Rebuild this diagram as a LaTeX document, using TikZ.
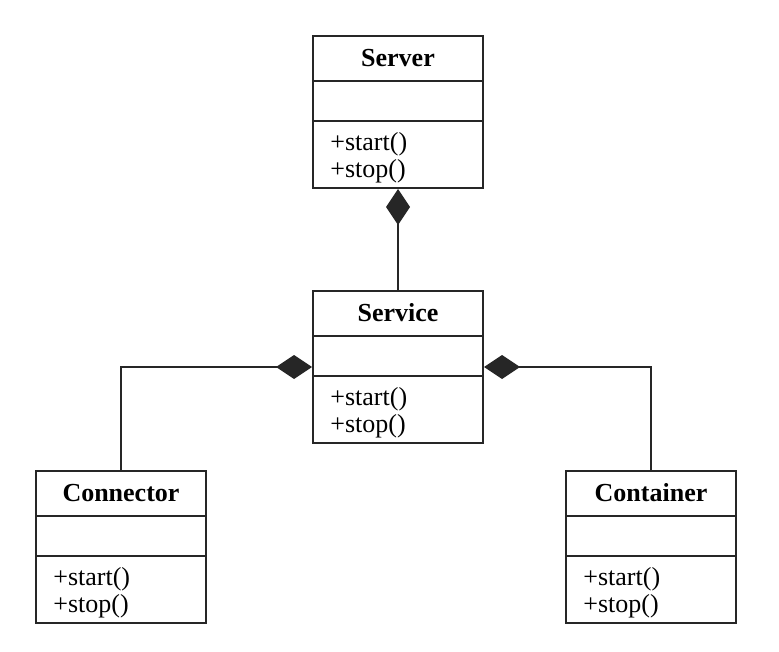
\documentclass[tikz,border=0pt]{standalone}
\usepackage{fontspec}
\setmainfont{Liberation Serif}
\usepackage{tikz}
\usetikzlibrary{positioning}
\usetikzlibrary{arrows.meta}
\tikzset{classbox/.style={draw=black!85, line width=1pt, minimum width=85pt, minimum height=76pt, inner sep=0pt}}
\tikzset{classname/.style={font=\fontsize{13}{13.5}\selectfont\bfseries, inner sep=0pt}}
\tikzset{classops/.style={font=\fontsize{13}{13.5}\selectfont, align=left, inner xsep=9pt, inner ysep=5.5pt, anchor=north west}}
\tikzset{compose/.style={draw=black!85, line width=0.7pt, {Diamond[length=18pt,width=12pt]}-}}

\begin{document}
\begin{tikzpicture}[x=0.5pt,y=-0.5pt]
\useasboundingbox (0,0) rectangle (779,651);
% the four classes
\foreach \name/\x/\y/\title in {server/398/112/Server, service/398/367/Service, connector/121/547/Connector, container/651/547/Container} {
\node[classbox] (\name) at (\x,\y) {};
\draw[draw=black!85, line width=1pt] ([yshift=-23pt]\name.north west) -- ([yshift=-23pt]\name.north east);
\draw[draw=black!85, line width=1pt] ([yshift=-43pt]\name.north west) -- ([yshift=-43pt]\name.north east);
\node[classname] (\name-title) at ([yshift=-11.5pt]\name.north) {\title};
\node[classops] (\name-ops) at ([yshift=-43pt]\name.north west) {+start()\\+stop()};
}
% composition
\draw[compose] (server.south) -- (service.north);
\draw[compose] (service.west) -| (connector.north);
\draw[compose] (service.east) -| (container.north);
\end{tikzpicture}
\end{document}
